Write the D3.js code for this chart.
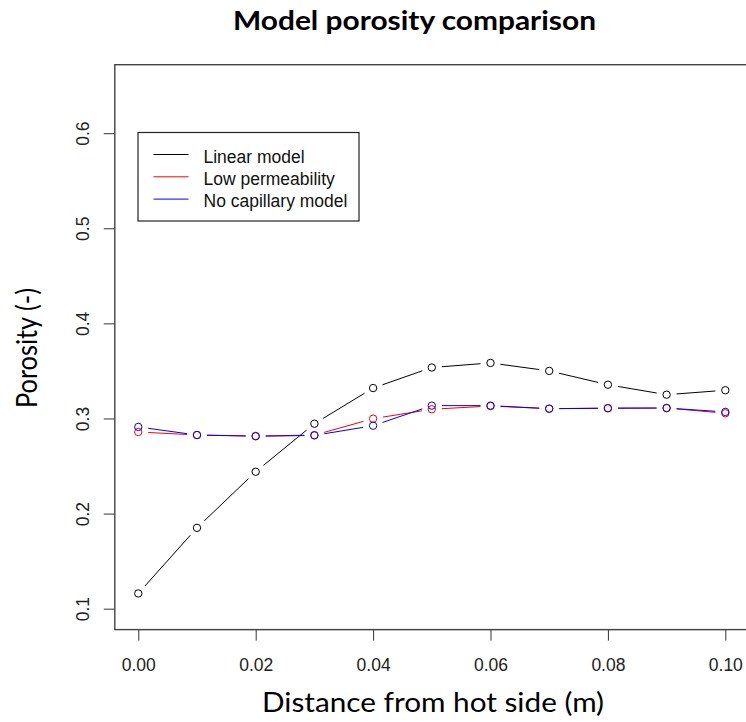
<!DOCTYPE html>
<html>
<head>
<meta charset="utf-8">
<script src="https://cdn.jsdelivr.net/npm/d3@7"></script>
<style>
  body { margin: 0; background: #fff; }
  svg { display: block; }
  .tick text { font-family: "Liberation Sans", Arial, sans-serif; font-size: 17.5px; fill: #222; }
</style>
</head>
<body>
<div class="container"></div>
<script>
const WIDTH = 746;
const HEIGHT = 722;
const GAP = 10;

// distance from hot side (m)
const distance = [0, 0.01, 0.02, 0.03, 0.04, 0.05, 0.06, 0.07, 0.08, 0.09, 0.10];

const linearModel = [0.116, 0.185, 0.244, 0.2945, 0.332, 0.3536, 0.3584, 0.350, 0.3355, 0.325, 0.3297];
const lowPermeability = [0.2858, 0.2826, 0.2816, 0.2825, 0.2998, 0.3097, 0.3131, 0.3103, 0.311, 0.311, 0.3055];
const noCapillary = [0.2911, 0.2826, 0.2813, 0.2822, 0.2924, 0.3135, 0.3135, 0.3103, 0.3107, 0.311, 0.3069];

const seriesNames = ['Linear model', 'Low permeability', 'No capillary model'];
const seriesColors = ['#000000', '#ff0000', '#0000ff'];

const xTicks = [0, 0.02, 0.04, 0.06, 0.08, 0.10];
const yTicks = [0.1, 0.2, 0.3, 0.4, 0.5, 0.6];

const svg = d3.select('.container').append('svg')
  .attr('width', WIDTH)
  .attr('height', HEIGHT);

// R style: limits expanded by 4%
const x = d3.scaleLinear().domain([-0.004, 0.104]).range([114.8, 748.8]);
const y = d3.scaleLinear().domain([0.078, 0.672]).range([629.6, 64.7]);

// title
svg.append('text')
  .attr('x', 414.5).attr('y', 30)
  .attr('text-anchor', 'middle')
  .attr('font-family', 'Lato, "Open Sans", sans-serif')
  .attr('font-weight', 'bold')
  .attr('font-size', 27)
  .attr('textLength', 363)
  .attr('lengthAdjust', 'spacingAndGlyphs')
  .text('Model porosity comparison');

// x axis
const xAxis = svg.append('g')
  .attr('transform', 'translate(0,' + y.range()[0] + ')')
  .call(d3.axisBottom(x).tickValues(xTicks).tickSize(11).tickFormat(d3.format('.2f')));
xAxis.select('.domain').remove();
xAxis.selectAll('.tick line').attr('stroke', '#333');
xAxis.selectAll('.tick text').attr('y', 41).attr('dy', 0);
xAxis.append('path')
  .attr('d', 'M' + x(xTicks[0]) + ',0H' + x(xTicks[xTicks.length - 1]))
  .attr('stroke', '#333');

// y axis
const yAxis = svg.append('g')
  .attr('transform', 'translate(' + x.range()[0] + ',0)')
  .call(d3.axisLeft(y).tickValues(yTicks).tickSize(11).tickFormat(d3.format('.1f')));
yAxis.select('.domain').remove();
yAxis.selectAll('.tick line').attr('stroke', '#333');
yAxis.selectAll('.tick text')
  .attr('x', null).attr('dy', 0)
  .attr('text-anchor', 'middle')
  .attr('transform', 'translate(-26,0) rotate(-90)');

// plot box
svg.append('rect')
  .attr('x', x.range()[0]).attr('y', y.range()[1])
  .attr('width', x.range()[1] - x.range()[0])
  .attr('height', y.range()[0] - y.range()[1])
  .attr('fill', 'none')
  .attr('stroke', '#444')
  .attr('stroke-width', 1.4);

// axis titles
svg.append('text')
  .attr('x', 433).attr('y', 712)
  .attr('text-anchor', 'middle')
  .attr('font-family', 'Lato, "Open Sans", sans-serif')
  .attr('font-size', 27)
  .attr('textLength', 342)
  .attr('lengthAdjust', 'spacingAndGlyphs')
  .text('Distance from hot side (m)');

svg.append('text')
  .attr('transform', 'translate(37,348) rotate(-90)')
  .attr('text-anchor', 'middle')
  .attr('font-family', 'Lato, "Open Sans", sans-serif')
  .attr('font-size', 28)
  .attr('textLength', 120)
  .attr('lengthAdjust', 'spacingAndGlyphs')
  .text('Porosity (-)');

// type = "b": points joined by lines with a gap round each point
function drawSeries(values, color) {
  const g = svg.append('g');
  const pts = values.map(function (v, i) { return [x(distance[i]), y(v)]; });
  for (let i = 0; i < pts.length - 1; i++) {
    const p0 = pts[i], p1 = pts[i + 1];
    const dx = p1[0] - p0[0], dy = p1[1] - p0[1];
    const len = Math.sqrt(dx * dx + dy * dy);
    if (len <= 2 * GAP) continue;
    const ux = dx / len, uy = dy / len;
    g.append('line')
      .attr('x1', p0[0] + ux * GAP).attr('y1', p0[1] + uy * GAP)
      .attr('x2', p1[0] - ux * GAP).attr('y2', p1[1] - uy * GAP)
      .attr('stroke', color)
      .attr('stroke-width', 1);
  }
  g.selectAll('circle')
    .data(values)
    .enter().append('circle')
    .attr('cx', function (d, i) { return x(distance[i]); })
    .attr('cy', function (d) { return y(d); })
    .attr('r', 3.7)
    .attr('fill', 'none')
    .attr('stroke', color)
    .attr('stroke-width', 1);
}

drawSeries(linearModel, seriesColors[0]);
drawSeries(lowPermeability, seriesColors[1]);
drawSeries(noCapillary, seriesColors[2]);

// legend
const legend = svg.append('g');
legend.append('rect')
  .attr('x', 138).attr('y', 132.5)
  .attr('width', 221).attr('height', 88.5)
  .attr('fill', '#fff')
  .attr('stroke', '#222')
  .attr('stroke-width', 1.2);
seriesNames.forEach(function (name, i) {
  const cy = 154.5 + i * 22.3;
  legend.append('line')
    .attr('x1', 153.5).attr('x2', 188.5)
    .attr('y1', cy).attr('y2', cy)
    .attr('stroke', seriesColors[i])
    .attr('stroke-width', 1);
  legend.append('text')
    .attr('x', 203.5).attr('y', cy + 8)
    .attr('font-family', '"Liberation Sans", Arial, sans-serif')
    .attr('font-size', 17.5)
    .attr('fill', '#111')
    .text(name);
});
</script>
</body>
</html>
